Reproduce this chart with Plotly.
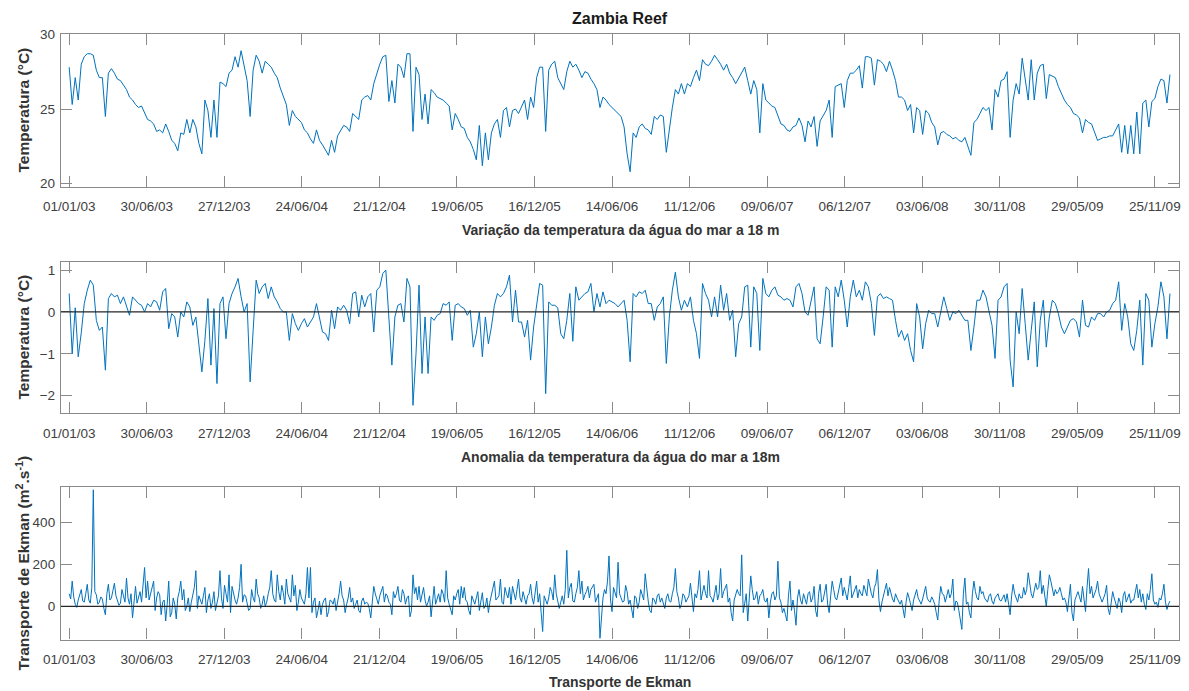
import pandas as pd
import plotly.graph_objects as go

# ---------------- data (weekly readings, starting 01/01/2003) ----------------
start_date = "2003-01-01"

temperatura = [
    27.8, 25.3, 27.1, 25.6, 28.0, 28.5, 28.7, 28.7, 28.6, 27.6,
    27.1, 27.1, 24.5, 27.4, 27.7, 27.4, 27.0, 26.9, 26.6, 26.3,
    25.8, 25.6, 25.3, 25.1, 25.2, 24.8, 24.3, 24.2, 24.0, 23.5,
    23.6, 23.4, 24.0, 23.5, 22.9, 22.7, 22.2, 23.4, 23.3, 24.3,
    23.4, 24.3, 23.8, 22.7, 22.0, 25.6, 24.9, 23.1, 25.6, 23.1,
    26.8, 26.7, 26.5, 27.4, 27.6, 28.5, 27.8, 28.9, 27.8, 26.9,
    24.5, 27.6, 28.6, 28.2, 27.4, 28.2, 28.0, 27.8, 27.4, 27.1,
    26.4, 25.8, 25.3, 23.9, 24.9, 24.5, 24.3, 24.1, 23.6, 23.4,
    23.0, 22.7, 23.6, 22.9, 22.6, 22.2, 21.9, 22.9, 22.1, 23.2,
    23.6, 23.9, 23.8, 23.5, 24.7, 24.5, 24.3, 25.6, 25.8, 25.9,
    25.6, 26.7, 27.4, 28.0, 28.5, 28.6, 25.5, 26.9, 25.4, 28.0,
    27.8, 27.1, 28.7, 28.7, 23.5, 27.8, 27.3, 24.3, 26.0, 24.0,
    26.3, 26.1, 25.8, 25.7, 25.6, 25.4, 25.2, 23.6, 24.7, 24.3,
    23.8, 23.7, 23.1, 22.8, 22.3, 21.6, 23.9, 21.2, 23.4, 21.6,
    23.4, 24.0, 24.3, 23.1, 24.9, 25.1, 23.8, 24.9, 25.0, 24.7,
    25.2, 25.6, 24.3, 25.8, 25.1, 27.1, 27.8, 27.8, 23.5, 27.6,
    28.0, 28.2, 27.1, 26.7, 26.3, 27.5, 28.2, 27.8, 28.0, 27.6,
    27.1, 27.5, 27.4, 27.0, 26.7, 26.3, 25.1, 25.8, 25.6, 25.3,
    25.1, 24.9, 24.7, 24.5, 23.8, 22.0, 20.8, 23.4, 23.1, 23.8,
    24.0, 23.7, 23.6, 23.3, 24.5, 24.3, 24.6, 24.5, 22.1, 23.8,
    25.1, 26.3, 26.0, 26.7, 26.0, 26.7, 26.5, 27.1, 27.6, 26.9,
    28.3, 28.0, 27.9, 28.2, 28.6, 28.3, 28.0, 27.6, 28.0, 27.4,
    27.1, 26.7, 27.1, 27.4, 27.8, 26.9, 26.0, 26.9, 26.3, 23.4,
    26.7, 25.6, 25.4, 25.2, 25.1, 24.6, 24.0, 23.9, 23.6, 23.5,
    23.8, 23.9, 24.4, 23.9, 22.8, 24.2, 23.8, 24.5, 22.5, 24.2,
    24.6, 24.9, 25.6, 23.1, 26.5, 26.6, 26.7, 25.1, 26.9, 27.4,
    27.4, 27.6, 27.9, 26.4, 28.5, 28.5, 28.4, 26.6, 28.3, 28.2,
    28.0, 27.5, 28.2, 27.6, 26.9, 25.8, 25.8, 25.6, 24.9, 25.3,
    23.4, 25.1, 24.9, 23.3, 24.9, 24.7, 24.1, 23.8, 22.6, 23.4,
    23.5, 23.3, 23.2, 23.0, 23.1, 22.9, 22.8, 23.1, 22.5, 21.9,
    24.1, 24.3, 24.7, 25.1, 24.9, 25.1, 23.6, 26.3, 25.8, 26.9,
    27.0, 27.5, 23.1, 25.6, 26.7, 26.0, 28.4, 27.1, 25.6, 28.3,
    25.6, 27.4, 27.9, 28.0, 25.7, 27.3, 27.2, 27.1, 26.5, 26.0,
    25.6, 25.3, 25.1, 24.7, 24.6, 24.4, 23.4, 24.3, 24.1, 24.0,
    23.5, 22.9, 23.0, 23.1, 23.1, 23.2, 23.2, 23.6, 24.0, 22.1,
    23.9, 22.0, 23.9, 22.0, 24.8, 22.0, 25.4, 25.6, 23.8, 25.5,
    25.7, 26.5, 27.0, 26.9, 25.4, 27.3,
]

anomalia = [
    0.44, -1.00, 0.10, -1.07, -0.50, 0.20, 0.52, 0.76, 0.64, -0.20,
    -0.44, -0.36, -1.39, 0.32, 0.44, 0.36, 0.40, 0.20, 0.36, 0.16,
    -0.08, 0.36, 0.28, 0.20, 0.16, 0.00, 0.20, 0.12, 0.28, 0.24,
    0.04, 0.48, 0.56, -0.40, -0.04, -0.12, -0.60, 0.00, -0.12, 0.24,
    0.12, -0.32, -0.12, -0.84, -1.43, -0.68, 0.32, -1.27, 0.08, -1.71,
    0.20, 0.36, -0.64, 0.20, 0.44, 0.60, 0.80, 0.36, 0.00, 0.20,
    -1.67, -0.44, 0.76, 0.44, 0.60, 0.68, 0.32, 0.60, 0.36, 0.24,
    0.08, 0.00, 0.00, -0.68, -0.04, -0.28, -0.44, -0.28, -0.16, -0.36,
    -0.24, -0.12, 0.20, -0.12, -0.48, -0.52, -0.68, 0.04, -0.40, 0.12,
    0.04, 0.16, 0.04, -0.28, 0.44, 0.48, -0.12, 0.40, 0.12, 0.36,
    0.44, -0.48, 0.52, 0.60, 0.92, 1.00, -0.28, -1.27, -0.12, 0.16,
    0.20, -0.24, 0.80, 0.60, -2.23, -1.00, 0.64, -1.47, -0.12, -1.47,
    -0.12, -0.20, -0.08, -0.04, 0.20, 0.16, 0.24, -0.68, 0.16, 0.20,
    0.12, 0.08, -0.08, 0.04, -0.84, -0.52, 0.00, -1.07, -0.12, -0.76,
    -0.36, 0.16, 0.44, 0.36, 0.44, 0.60, 0.88, -0.24, 0.52, -0.24,
    -0.24, -0.60, -0.20, -1.15, -0.36, 0.20, 0.68, 0.64, -1.95, 0.24,
    0.16, 0.16, 0.10, -0.52, -0.64, -0.20, 0.44, -0.70, 0.60, 0.28,
    0.36, 0.44, 0.48, 0.68, 0.00, 0.44, 0.12, 0.48, 0.20, 0.28,
    0.24, 0.20, 0.12, 0.20, 0.28, -0.20, -1.19, 0.44, 0.36, 0.48,
    0.44, 0.52, 0.20, 0.20, -0.20, 0.12, 0.20, 0.36, -1.23, -0.12,
    0.52, 0.95, 0.36, 0.04, 0.28, 0.12, 0.36, -0.20, -0.52, -1.11,
    0.68, 0.44, 0.28, -0.12, 0.36, -0.12, 0.64, 0.04, 0.44, -0.20,
    0.04, -1.07, -0.28, -0.12, 0.60, 0.64, -0.84, 0.60, 0.44, -0.92,
    0.80, 0.44, 0.36, 0.52, 0.60, 0.40, 0.36, 0.28, 0.32, 0.28,
    0.12, 0.60, 0.68, 0.44, 0.00, -0.08, 0.28, 0.60, -0.64, -0.76,
    -0.12, 0.60, 0.52, -0.84, 0.60, 0.36, 0.76, 0.28, -0.36, 0.36,
    0.76, 0.36, 0.52, 0.28, 0.72, 0.60, 0.20, -0.56, 0.36, 0.44,
    0.32, 0.36, 0.32, 0.28, -0.20, -0.60, -0.44, -0.68, -0.52, -0.92,
    -1.19, 0.20, -0.12, -0.88, -0.28, 0.04, -0.04, -0.04, -0.36, 0.04,
    0.36, 0.08, -0.20, 0.00, -0.04, 0.04, -0.08, -0.20, -0.20, -0.92,
    -0.36, 0.28, 0.28, 0.52, 0.36, 0.04, -0.32, -1.11, 0.28, 0.36,
    0.60, 0.68, -1.15, -1.79, 0.00, -0.52, 0.56, -0.28, -1.15, -0.44,
    0.24, -1.31, -0.20, 0.28, -0.84, -0.12, 0.28, 0.20, -0.04, -0.36,
    -0.52, -0.36, -0.20, -0.16, -0.24, -0.60, 0.28, -0.32, -0.36, -0.12,
    -0.20, -0.04, -0.04, -0.12, 0.00, 0.04, 0.20, 0.28, 0.72, -0.44,
    0.20, -0.12, -0.76, -0.92, -0.44, 0.28, -1.27, 0.44, 0.28, -0.84,
    -0.28, 0.12, 0.72, 0.36, -0.64, 0.44,
]

# Ekman transport: readings at the start of each week ...
ekman_semana = [
    60, 120, 10, 30, 80, 20, 105, 15, 555, 55,
    20, 35, -40, 105, 40, 110, 30, 15, 50, 135,
    10, -55, 95, 40, 20, 185, 120, 60, 120, 40,
    55, 20, -70, 120, -30, 10, 40, 120, 80, 0,
    -25, 55, 170, 50, 10, 90, 30, -10, 70, 20,
    170, -10, 60, 150, 95, 30, 40, 200, 55, 10,
    -10, 40, 130, 40, 10, 0, 60, 170, 30, 150,
    30, 65, 130, 40, 150, 100, 20, 40, 10, 185,
    185, 20, -55, 25, 10, 40, -25, 25, 40, 15,
    120, 30, 10, 90, 40, 10, -20, 25, 10, 15,
    -55, 95, 30, 50, 95, 60, 20, -40, 40, 95,
    20, 60, 40, -50, 150, 90, 95, 60, 30, 20,
    -50, 95, 40, 20, 60, 170, 10, -40, 30, 80,
    95, 90, 20, -40, 30, 40, -20, 65, 0, -30,
    60, 120, 40, 130, 10, 60, 90, 95, 30, 130,
    20, 40, 50, 105, 10, 120, 60, -120, 25, 40,
    70, 150, 25, 20, 10, 267, 90, 25, 60, 170,
    120, 55, 95, 80, 105, 40, -152, 40, 60, 240,
    -25, 60, 210, 40, 25, 70, 30, -55, 40, 20,
    60, 155, 25, -30, 30, 50, 20, 10, 40, 25,
    60, 180, 40, 10, 50, 35, 110, -25, 40, 170,
    70, 60, 170, 40, 60, 30, 180, 70, 105, 40,
    -70, 55, 60, 245, 15, -70, 145, 30, 70, 50,
    80, 20, -55, 60, 30, 215, 20, -10, -70, 120,
    30, -90, 80, 10, 40, 60, 20, 95, -50, 105,
    30, 105, -30, 120, 40, 60, 135, 90, 30, 145,
    60, 100, 80, 50, 80, 130, 60, 90, 175, -25,
    60, 110, 90, 35, 60, 25, 30, -55, 65, 10,
    30, 80, 25, 35, 95, 25, 45, 10, -65, 95,
    55, 50, 40, 130, 25, -20, -110, 135, 20, -55,
    120, 40, 95, 70, 30, 50, 25, 40, 60, 25,
    55, 60, -40, 105, 35, 60, 40, 55, 160, 60,
    80, 80, 170, 100, 0, 150, 90, 80, 70, 60,
    40, -25, 105, -70, 55, 45, 95, -25, 180, 95,
    60, 120, 40, 40, 100, -40, 70, 15, 40, -30,
    70, 40, 15, 30, 105, 80, 60, -15, 30, 155,
    10, -5, 30, 105, -15, 25,
]
# ... and readings at mid-week (3.5 days later)
ekman_meio = [
    35, 45, -5, 55, 25, 60, 30, 90, 70, 10,
    45, -10, 60, 30, 75, 50, 5, 80, 20, 40,
    60, 20, 15, 70, 100, 40, 30, 90, -20, 70,
    -40, 30, 10, -50, 40, -60, 70, 30, -20, 40,
    20, 90, -10, 30, 50, -30, 60, 20, -20, 50,
    40, 100, 20, -30, 60, 10, 90, 20, 50, -20,
    80, 20, 60, -10, 50, 20, 90, 60, 20, 70,
    100, 10, 60, 20, 50, -20, 80, 20, 60, 40,
    -30, 40, -20, -40, 30, -50, 30, 10, -20, 60,
    50, -30, 40, 20, -10, 30, -30, 40, 20, -10,
    40, 60, 10, 80, 20, 50, 10, 70, 60, 30,
    80, 10, 50, -20, 60, 30, 20, 90, 0, 50,
    30, 10, 60, 80, 20, 40, -20, 50, 60, 10,
    40, 30, -20, 50, 10, 70, 20, -10, 40, 20,
    80, 30, 50, 20, 90, 40, 10, 60, 80, 40,
    70, 10, 60, 40, 80, 20, -30, 50, 10, 90,
    30, 60, -10, 50, 80, 40, 110, 20, 90, 60,
    30, 70, 40, 90, 20, 60, -40, 80, 120, 30,
    90, 40, 60, 20, 100, 10, -20, 50, -10, 80,
    30, 70, -20, 40, 10, 60, 40, -10, 60, 20,
    90, 70, -10, 60, 20, 50, 30, 60, 80, 30,
    100, 40, 50, 20, 100, 60, 40, 90, 20, -30,
    30, 80, 50, -30, 60, 20, 80, 40, 10, 60,
    30, 40, 20, 70, 50, 40, -30, -40, 50, -20,
    -20, 40, 30, 60, 10, 70, 40, -20, 60, 20,
    70, 10, 50, 80, 30, 90, 50, 60, 90, 40,
    80, 40, 60, 100, 50, 90, 40, 110, 30, 20,
    80, 50, 60, 20, 40, 10, -10, 20, 40, -20,
    50, 40, 10, 60, 40, 20, 30, -30, 30, 60,
    20, 80, 60, -20, 20, -60, 60, 10, -30, 60,
    70, 30, 60, 40, 20, 60, 10, 50, 30, 40,
    20, 10, 50, 60, 20, 40, 90, 80, 100, 40,
    110, 90, 60, 40, 80, 120, 50, 60, 90, 30,
    20, 40, -30, 30, 70, 20, 40, 90, 60, 40,
    80, 60, 20, 60, -10, 30, 40, -10, 20, 50,
    20, 60, 30, 60, 40, 20, 10, 60, 80, 30,
    20, 40, 60, 20, 10,
]

titulo = "Zambia Reef"
titulos_x = [
    "Variação da temperatura da água do mar a 18 m",
    "Anomalia da temperatura da água do mar a 18m",
    "Transporte de Ekman",
]
titulos_y = [
    "Temperatura (°C)",
    "Temperatura (°C)",
    "Transporte de Ekman (m<sup>2</sup>.s<sup>-1</sup>)",
]
y_ticks = [[20, 25, 30], [-2, -1, 0, 1], [0, 200, 400]]
y_ranges = [[19.78, 30.02], [-2.42, 1.2], [-158, 567]]

# ---------------- build series ----------------
d_temp = pd.date_range(start_date, periods=len(temperatura), freq="7D")
d_anom = pd.date_range(start_date, periods=len(anomalia), freq="7D")
d_ek_s = pd.date_range(start_date, periods=len(ekman_semana), freq="7D")
d_ek_m = d_ek_s[:len(ekman_meio)] + pd.Timedelta(hours=84)
ek = pd.Series(list(ekman_semana) + list(ekman_meio),
               index=list(d_ek_s) + list(d_ek_m)).sort_index()

series = [
    (d_temp, temperatura),
    (d_anom, anomalia),
    (ek.index, ek.values),
]

# ---------------- figure ----------------
W, H = 1189, 691
FONT = "Liberation Sans, Arial, sans-serif"
LINE_BLUE = "#0072BD"
AXIS_COL = "#8a8a8a"
TICK_TXT = "#404040"

x_left, x_right = 61, 1179
panels_px = [(34, 187), (261.7, 413.3), (487.3, 639.5)]
x_dom = [x_left / W, x_right / W]

fig = go.Figure()
for i, (xs, ys) in enumerate(series):
    fig.add_trace(go.Scatter(
        x=xs, y=ys, mode="lines",
        line=dict(color=LINE_BLUE, width=1),
        xaxis="x" if i == 0 else f"x{i+1}",
        yaxis="y" if i == 0 else f"y{i+1}",
        showlegend=False, hoverinfo="skip",
    ))

layout = dict(
    width=W, height=H,
    margin=dict(l=0, r=0, t=0, b=0, autoexpand=False),
    paper_bgcolor="white", plot_bgcolor="white",
    font=dict(family=FONT, size=13, color=TICK_TXT),
    showlegend=False,
)

for i, (top, bot) in enumerate(panels_px):
    xa = "xaxis" if i == 0 else f"xaxis{i+1}"
    ya = "yaxis" if i == 0 else f"yaxis{i+1}"
    ydom = [1 - bot / H, 1 - top / H]
    layout[xa] = dict(
        domain=x_dom,
        anchor="y" if i == 0 else f"y{i+1}",
        type="date",
        range=["2002-12-13", "2010-01-20"],
        tick0=start_date, dtick=180 * 86400000,
        tickformat="%d/%m/%y",
        ticks="inside", ticklen=11, tickwidth=1, tickcolor=AXIS_COL,
        showline=True, linecolor=AXIS_COL, linewidth=1.3, mirror="ticks",
        showgrid=False, zeroline=False, automargin=False,
        tickfont=dict(family=FONT, size=13.5, color=TICK_TXT),
        ticklabelstandoff=7,
    )
    layout[ya] = dict(
        domain=ydom,
        anchor="x" if i == 0 else f"x{i+1}",
        range=y_ranges[i],
        tickvals=y_ticks[i],
        ticks="inside", ticklen=11, tickwidth=1, tickcolor=AXIS_COL,
        showline=True, linecolor=AXIS_COL, linewidth=1.3, mirror="ticks",
        showgrid=False, zeroline=False, automargin=False,
        tickfont=dict(family=FONT, size=13.5, color=TICK_TXT),
        ticklabelstandoff=2,
    )

fig.update_layout(**layout)

# zero reference lines (panels 2 and 3)
for i in (1, 2):
    fig.add_shape(
        type="line", xref=f"x{i+1} domain", yref=f"y{i+1}",
        x0=0, x1=1, y0=0, y1=0,
        line=dict(color="#262626", width=1.3), layer="above",
    )

annotations = []
cx = (x_left + x_right) / 2 / W
annotations.append(dict(
    text=f"<b>{titulo}</b>", x=cx, y=1 - 19 / H, xref="paper", yref="paper",
    showarrow=False, xanchor="center", yanchor="middle",
    font=dict(family=FONT, size=16, color="#1a1a1a"),
))
x_title_y = [230, 456.5, 681.5]
for i, (top, bot) in enumerate(panels_px):
    annotations.append(dict(
        text=f"<b>{titulos_x[i]}</b>", x=cx, y=1 - x_title_y[i] / H,
        xref="paper", yref="paper", showarrow=False,
        xanchor="center", yanchor="middle",
        font=dict(family=FONT, size=14, color="#333333"),
    ))
    annotations.append(dict(
        text=f"<b>{titulos_y[i]}</b>", x=23 / W, y=1 - ((top + bot) / 2) / H,
        xref="paper", yref="paper", showarrow=False, textangle=-90,
        xanchor="center", yanchor="middle",
        font=dict(family=FONT, size=15.5, color="#333333"),
    ))
fig.update_layout(annotations=annotations)

fig.write_html("out.html")
